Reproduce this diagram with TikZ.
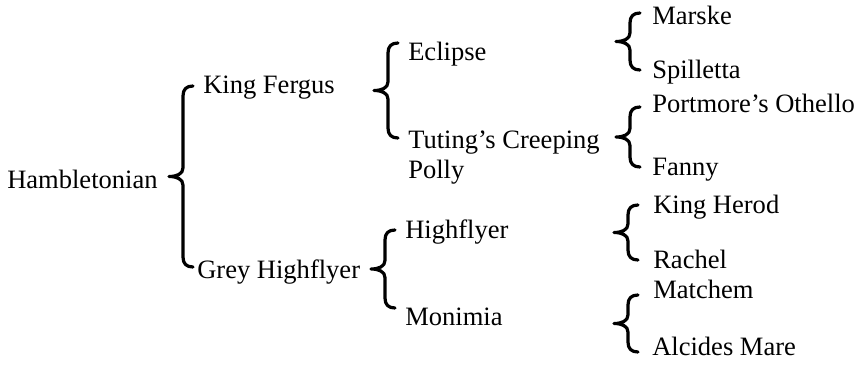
\documentclass[tikz,border=0pt]{standalone}
\usepackage{fontspec}
\setmainfont{Liberation Serif}
\usepackage{tikz}
\usetikzlibrary{calc}
\definecolor{KInk}{HTML}{000000}
\tikzset{
  horse/.style={anchor=base west,inner sep=0pt,align=left,text=KInk,
                font=\fontsize{19.9}{22.5}\selectfont},
  pedbrace/.style={draw=KInk,line width=2.4pt,line cap=round,line join=round,
    to path={let \p1=(\tikztostart),\p2=(\tikztotarget),
                 \p3=($(\tikztostart)!0.5!(\tikztotarget)$) in
      (\p1) .. controls (\x1-5pt,\y1) and (\x1-7.5pt,\y1-2.5pt) .. (\x1-7.5pt,\y1-7.5pt)
      -- (\x1-7.5pt,\y3+6.5pt)
      .. controls (\x1-7.5pt,\y3+2pt) and (\x1-12pt,\y3) .. (\x1-18pt,\y3)
      .. controls (\x1-12pt,\y3) and (\x1-7.5pt,\y3-2pt) .. (\x1-7.5pt,\y3-6.5pt)
      -- (\x2-7.5pt,\y2+7.5pt)
      .. controls (\x2-7.5pt,\y2+2.5pt) and (\x2-5pt,\y2) .. (\p2)}}
}

\begin{document}
\begin{tikzpicture}[x=0.75pt,y=-0.75pt]
  \useasboundingbox (0,0) rectangle (861,365);

  % generation 0 and 1
  \node[horse] (ham) at (7,188) {Hambletonian};
  \node[horse] (kf)  at (203,93) {King Fergus};
  \node[horse] (gh)  at (197,278) {Grey Highflyer};

  % generation 2 (base of a two-line name is its last line)
  \node[horse] (ecl) at (408,60) {Eclipse};
  \node[horse] (tcp) at (408,178) {Tuting’s Creeping\\Polly};
  \node[horse] (hfl) at (405,238) {Highflyer};
  \node[horse] (mon) at (405,325) {Monimia};

  % generation 3
  \node[horse] (mar) at (652,24) {Marske};
  \node[horse] (spi) at (652,78) {Spilletta};
  \node[horse] (por) at (652,112) {Portmore’s Othello};
  \node[horse] (fan) at (652,175) {Fanny};
  \node[horse] (khe) at (653,213) {King Herod};
  \node[horse] (rac) at (653,268) {Rachel};
  \node[horse] (mat) at (653,298) {Matchem};
  \node[horse] (alc) at (652,355) {Alcides Mare};

  % brace ends
  \coordinate (kfT)  at (193,86);  \coordinate (ghB)  at (193,267);
  \coordinate (eclT) at (398,43);  \coordinate (tcpB) at (398,138);
  \coordinate (hflT) at (395,230); \coordinate (monB) at (395,308);
  \coordinate (marT) at (640,13);  \coordinate (spiB) at (640,70);
  \coordinate (porT) at (640,107); \coordinate (fanB) at (640,167);
  \coordinate (kheT) at (638,205); \coordinate (racB) at (638,260);
  \coordinate (matT) at (638,295); \coordinate (alcB) at (638,352);

  \draw[pedbrace] (kfT) to (ghB);
  \draw[pedbrace] (eclT) to (tcpB);
  \draw[pedbrace] (hflT) to (monB);
  \draw[pedbrace] (marT) to (spiB);
  \draw[pedbrace] (porT) to (fanB);
  \draw[pedbrace] (kheT) to (racB);
  \draw[pedbrace] (matT) to (alcB);
\end{tikzpicture}
\end{document}
